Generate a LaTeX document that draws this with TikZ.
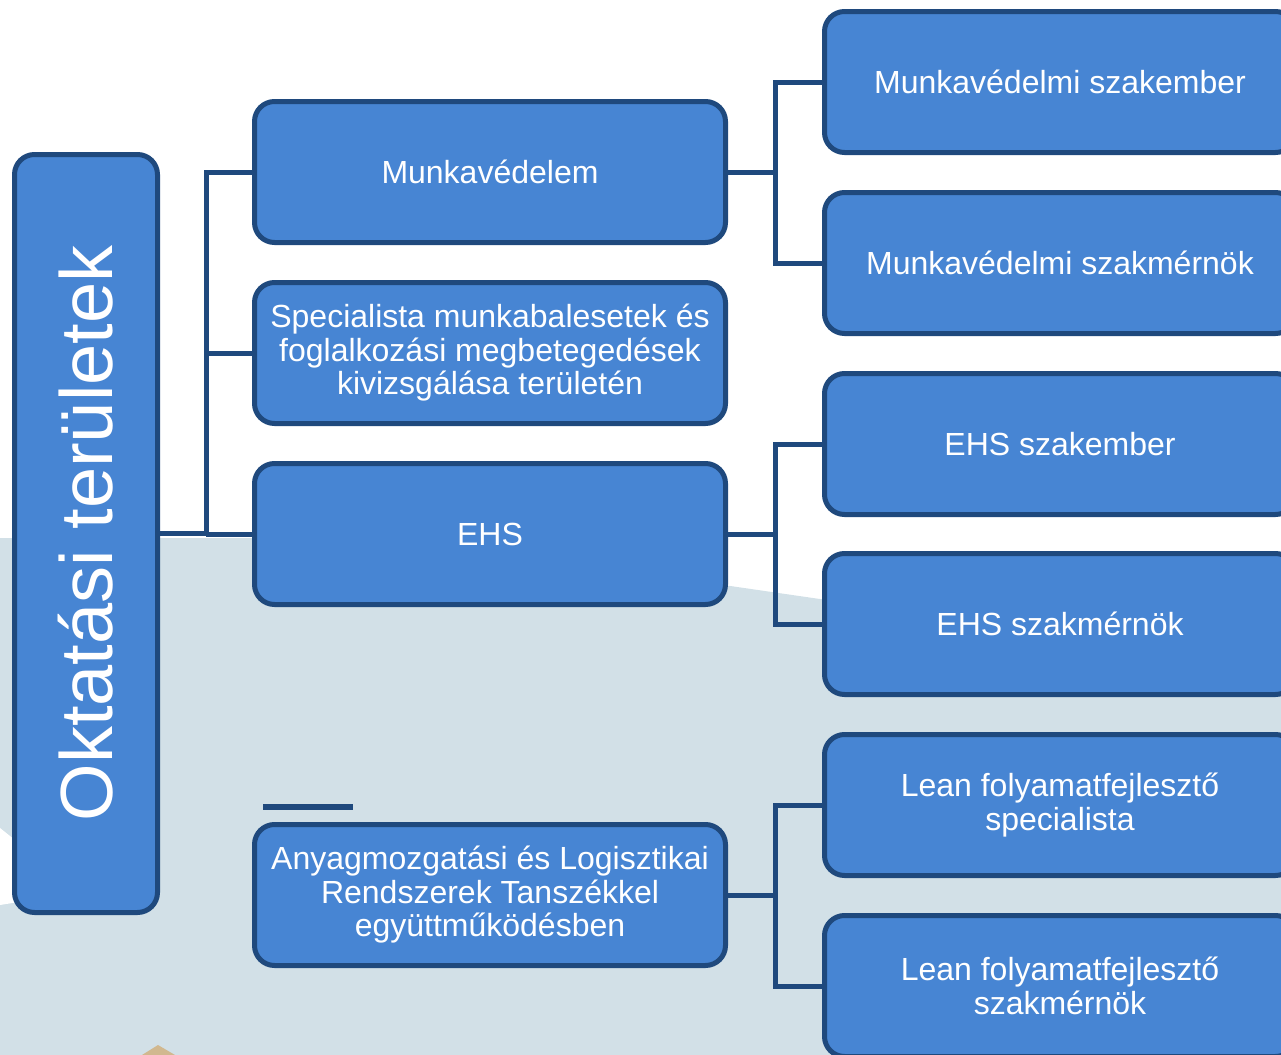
\documentclass[tikz,border=0pt]{standalone}
\usepackage{graphicx}
\usepackage{fontspec}
\setmainfont{Liberation Sans}
\definecolor{boxblue}{RGB}{71,133,211}
\definecolor{boxline}{RGB}{31,73,125}
\definecolor{bggray}{RGB}{210,224,231}
\definecolor{sand}{RGB}{209,184,143}
\begin{document}
\begin{tikzpicture}[x=0.5pt, y=-0.5pt,
	box/.style={draw=boxline, line width=2.5pt, fill=boxblue, rounded corners=10pt, text=white,
		minimum width=235.5pt, minimum height=70.5pt, inner sep=0pt, align=center,
		font=\fontsize{16}{16.75}\selectfont},
	conn/.style={draw=boxline, line width=2.5pt}]
	\useasboundingbox (0,0) rectangle (1281,1055);
	\clip (0,0) rectangle (1281,1055);
	% hatter
	\fill[bggray] (0,538) -- (400,538) -- (1281,666) -- (1281,1055) -- (0,1055) -- cycle;
	\fill[white] (0,828) -- (80,892) -- (0,905) -- cycle;
	\fill[sand] (142,1055) -- (158,1045) -- (175,1055) -- cycle;
	% fo doboz
	\node[box, minimum width=71.5pt, minimum height=379pt] (ota) at (86,533.5)
		{\rotatebox{90}{\fontsize{37}{40}\selectfont Oktatási területek}};
	% kozepso oszlop
	\node[box] (munka) at (490,172) {Munkavédelem};
	\node[box] (spec) at (490,353) {Specialista munkabalesetek és\\foglalkozási megbetegedések\\kivizsgálása területén};
	\node[box] (ehs) at (490,534) {EHS};
	\node[box] (anyag) at (490,895) {Anyagmozgatási és Logisztikai\\Rendszerek Tanszékkel\\együttműködésben};
	% jobb oszlop
	\node[box] (msz) at (1060,82) {Munkavédelmi szakember};
	\node[box] (mszm) at (1060,263) {Munkavédelmi szakmérnök};
	\node[box] (ehssz) at (1060,444) {EHS szakember};
	\node[box] (ehssm) at (1060,624) {EHS szakmérnök};
	\node[box] (lean1) at (1060,805) {Lean folyamatfejlesztő\\specialista};
	\node[box] (lean2) at (1060,986) {Lean folyamatfejlesztő\\szakmérnök};
	% osszekotok
	\draw[conn] (munka.west) -- ++(-46,0) coordinate (bus) |- (ota.east);
	\draw[conn] (spec.west) -- (spec.west -| bus);
	\draw[conn] (ehs.west) -- (ehs.west -| bus);
	\draw[conn] (munka.east) -- ++(47,0) coordinate (rb1);
	\draw[conn] (msz.west) -| (rb1) |- (mszm.west);
	\draw[conn] (ehs.east) -- ++(47,0) coordinate (rb2);
	\draw[conn] (ehssz.west) -| (rb2) |- (ehssm.west);
	\draw[conn] (anyag.east) -- ++(47,0) coordinate (rb3);
	\draw[conn] (lean1.west) -| (rb3) |- (lean2.west);
	\draw[boxline, line width=3pt] (263,807) -- (353,807);
\end{tikzpicture}
\end{document}
